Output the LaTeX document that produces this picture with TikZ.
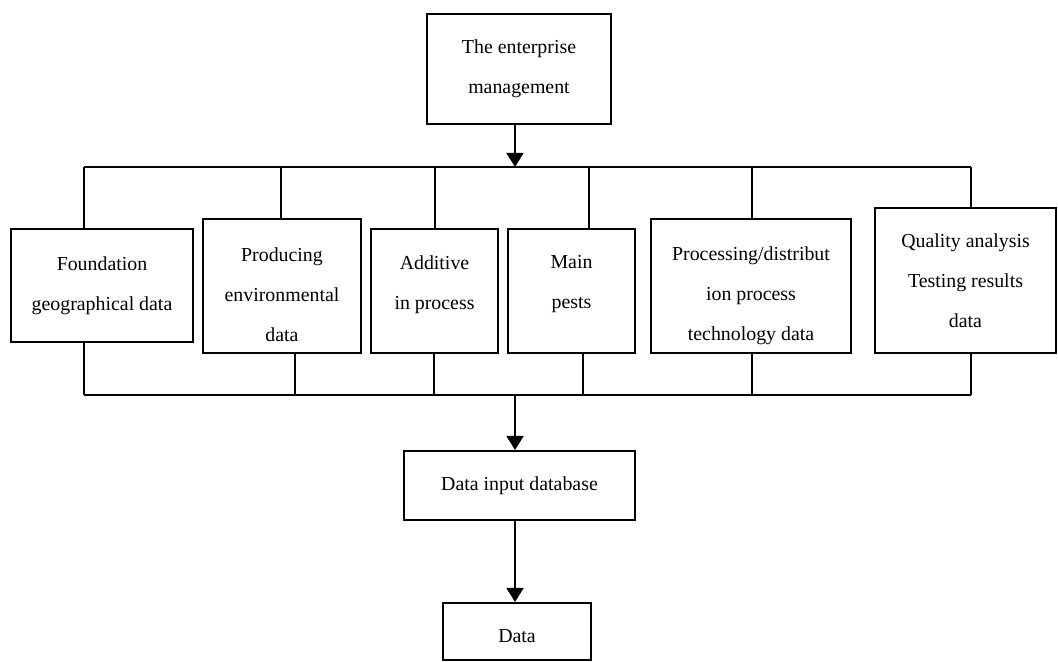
\documentclass[tikz,border=0pt]{standalone}
\usepackage{fontspec}
\setmainfont{Liberation Serif}
\usetikzlibrary{arrows.meta}

% invisible struts that push a box's text down or up
\newcommand{\padtop}[1]{\rule{0pt}{#1}}
\newcommand{\padbot}[1]{\rule[-#1]{0pt}{#1}}

\begin{document}
\begin{tikzpicture}[
        box/.style={draw, line width=1.1pt, align=center, inner sep=0pt,
            font=\fontsize{11.3}{22.8}\selectfont},
        link/.style={line width=1.1pt},
        arr/.style={line width=1.6pt, -{Triangle[width=9.5pt,length=8pt]}}
    ]
            \useasboundingbox (0,0) rectangle (21.16,13.22);

            % Nodes
            \node[box, minimum width=3.68cm, minimum height=2.2cm] (mgmt) at (10.38,11.84) {The enterprise\\management};
            \node[box, minimum width=3.64cm, minimum height=2.26cm] (geo) at (2.04,7.51) {Foundation\\geographical data};
            \node[box, minimum width=3.16cm, minimum height=2.68cm] (env) at (5.64,7.50) {\padtop{0.61cm}Producing\\environmental\\data};
            \node[box, minimum width=2.54cm, minimum height=2.48cm] (add) at (8.69,7.40) {Additive\\in process\padbot{0.35cm}};
            \node[box, minimum width=2.54cm, minimum height=2.48cm] (pest) at (11.43,7.40) {Main\\pests\padbot{0.35cm}};
            \node[box, minimum width=4.00cm, minimum height=2.68cm] (proc) at (15.02,7.50) {\padtop{0.67cm}Processing/distribut\\ion process\\technology data};
            \node[box, minimum width=3.62cm, minimum height=2.90cm] (qual) at (19.31,7.61) {Quality analysis\\Testing results\\data};
            \node[box, minimum width=4.62cm, minimum height=1.38cm] (input) at (10.39,3.51) {Data input database};
            \node[box, minimum width=2.96cm, minimum height=1.14cm] (data) at (10.34,0.59) {\padtop{0.46cm}Data};

            % Bus points
            \coordinate (topbus) at (10.30,9.88);
            \coordinate (t1) at (1.68,9.88);
            \coordinate (t2) at (5.62,9.88);
            \coordinate (t3) at (8.70,9.88);
            \coordinate (t4) at (11.78,9.88);
            \coordinate (t5) at (15.04,9.88);
            \coordinate (t6) at (19.42,9.88);
            \coordinate (lowbus) at (10.30,5.32);
            \coordinate (b1) at (1.68,5.32);
            \coordinate (b2) at (5.90,5.32);
            \coordinate (b3) at (8.68,5.32);
            \coordinate (b4) at (11.66,5.32);
            \coordinate (b5) at (15.04,5.32);
            \coordinate (b6) at (19.42,5.32);

            % Connections
            \draw[arr] (mgmt.south -| topbus) -- (topbus);
            \draw[link] (t1) -- (t6);
            \draw[link] (t1) -- (t1 |- geo.north);
            \draw[link] (t2) -- (t2 |- env.north);
            \draw[link] (t3) -- (t3 |- add.north);
            \draw[link] (t4) -- (t4 |- pest.north);
            \draw[link] (t5) -- (t5 |- proc.north);
            \draw[link] (t6) -- (t6 |- qual.north);
            \draw[link] (b1 |- geo.south) -- (b1);
            \draw[link] (b2 |- env.south) -- (b2);
            \draw[link] (b3 |- add.south) -- (b3);
            \draw[link] (b4 |- pest.south) -- (b4);
            \draw[link] (b5 |- proc.south) -- (b5);
            \draw[link] (b6 |- qual.south) -- (b6);
            \draw[link] (b1) -- (b6);
            \draw[arr] (lowbus) -- (input.north -| lowbus);
            \draw[arr] (input.south -| lowbus) -- (data.north -| lowbus);
        \end{tikzpicture}
\end{document}
